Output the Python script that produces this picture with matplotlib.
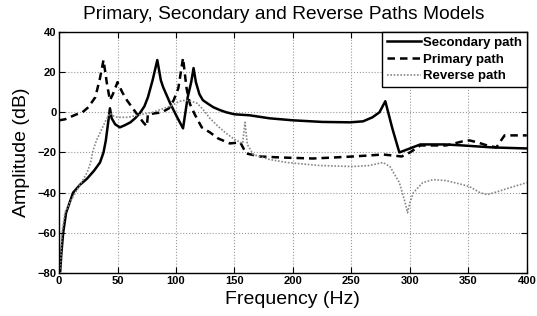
import matplotlib
matplotlib.use("Agg")
import matplotlib.pyplot as plt
import numpy as np

plt.rcParams['font.family'] = ['Liberation Sans', 'DejaVu Sans']

# secondary path (solid)
sec_f = [1, 2, 3.5, 6, 12, 18, 24, 30, 35, 38, 40, 42, 43.5, 45, 48, 52, 56, 61, 65, 69, 73, 76,
         80, 84, 87, 89, 95, 101, 106, 110, 113, 115, 117, 120, 123, 128, 132, 138, 143, 150, 163,
         180, 200, 225, 249, 260, 268, 274, 279, 285, 291, 300, 309, 330, 345, 371, 400]
sec_db = [-79, -70, -60, -50, -40, -36, -33, -29, -25, -20, -14, -5, 2, -3, -6, -7.5, -6.5, -5, -3,
          -0.5, 3, 7.5, 16, 26, 16, 12.5, 4.5, -2.5, -8, 7.5, 15, 22, 15, 9, 6, 4, 2.5, 1, 0, -1,
          -1.5, -3, -4, -4.8, -5, -4.5, -2.5, 0, 5.5, -8, -20, -18, -16, -16, -16.5, -17.5, -18]

# primary path (dashed)
pri_f = [0, 5, 9, 15, 20, 25, 31, 35, 38, 41, 43.5, 46, 50, 54, 58, 63, 68, 72, 75, 76, 82, 88,
         94, 98, 102, 106, 109, 112, 116, 122, 129, 136, 146, 155, 160, 172, 190, 217, 235, 251,
         265, 277, 285, 293, 300, 309, 331, 345, 351, 358, 366, 374, 378, 381, 400]
pri_db = [-4, -3.5, -2.5, -1, 0, 2.5, 7.5, 17, 26, 14, 6, 9, 15, 10, 6, 2, -2, -5, -7, -1, -0.5,
          0, 2, 6, 12, 27, 12, 4, -1, -7.5, -10, -13, -15.5, -15, -20.5, -22, -22.5, -23, -22.5,
          -22, -21.5, -21, -21.5, -22, -20, -16.5, -16.5, -14.5, -14, -15, -16.5, -17.5, -14,
          -11.5, -11.5]

# reverse path (dotted)
rev_f = [1, 2.5, 5, 10, 15, 20, 24, 27, 29, 32, 36, 40, 43.5, 47, 50, 59, 67, 80, 90, 97, 103,
         108, 113, 118, 123, 129, 136, 143, 150, 157, 159, 161, 166, 180, 195, 223, 251, 265, 277,
         283, 291, 296, 298, 300, 303, 311, 320, 331, 345, 351, 360, 366, 375, 383, 400]
rev_db = [-78, -60, -50, -44, -39, -34, -30, -25, -19, -14, -9, -4, -0.5, -2, -2.5, -2.5, -1.5, 0,
          2, 3.5, 5.5, 6, 5.5, 4.5, 1.5, -3, -7, -10.5, -13.5, -15.5, -5, -16, -21, -23.5, -25,
          -26.5, -27, -26.5, -25, -27, -35, -45, -50, -45, -40, -35, -33.5, -34, -36, -37, -40,
          -41, -39.5, -38, -35]

xticks = np.arange(0, 401, 50)
yticks = np.arange(-80, 41, 20)

fig = plt.figure(figsize=(5.37, 3.16), dpi=100)
ax = fig.add_axes([0.110, 0.136, 0.871, 0.763])

ax.plot(sec_f, sec_db, color='black', lw=1.8, label='Secondary path')
ax.plot(pri_f, pri_db, color='black', lw=1.8, ls=(0, (3, 2)), label='Primary path')
ax.plot(rev_f, rev_db, color='#888888', lw=1.2, ls=(0, (1, 1)), label='Reverse path')

ax.set_xlim(0, 400)
ax.set_ylim(-80, 40)
ax.set_xticks(xticks)
ax.set_yticks(yticks)
ax.grid(True, ls=':', color='#999999', lw=0.8)
ax.tick_params(direction='in', top=True, right=True, length=4, width=0.8, labelsize=8, pad=2)
for lab in ax.get_xticklabels() + ax.get_yticklabels():
    lab.set_fontweight('bold')
for s in ax.spines.values():
    s.set_linewidth(1.0)

ax.set_title('Primary, Secondary and Reverse Paths Models', fontsize=13.8, pad=9, x=0.48)
ax.set_xlabel('Frequency (Hz)', fontsize=14, labelpad=4)
ax.set_ylabel('Amplitude (dB)', fontsize=14, labelpad=5)

leg = ax.legend(loc='upper right', borderaxespad=0, fancybox=False, framealpha=1,
                edgecolor='black', prop={'weight': 'bold', 'size': 9.5},
                handlelength=2.6, handletextpad=0.15, labelspacing=0.35, borderpad=0.35)
leg.get_frame().set_linewidth(1.0)

fig.savefig('out.png', dpi=100)
